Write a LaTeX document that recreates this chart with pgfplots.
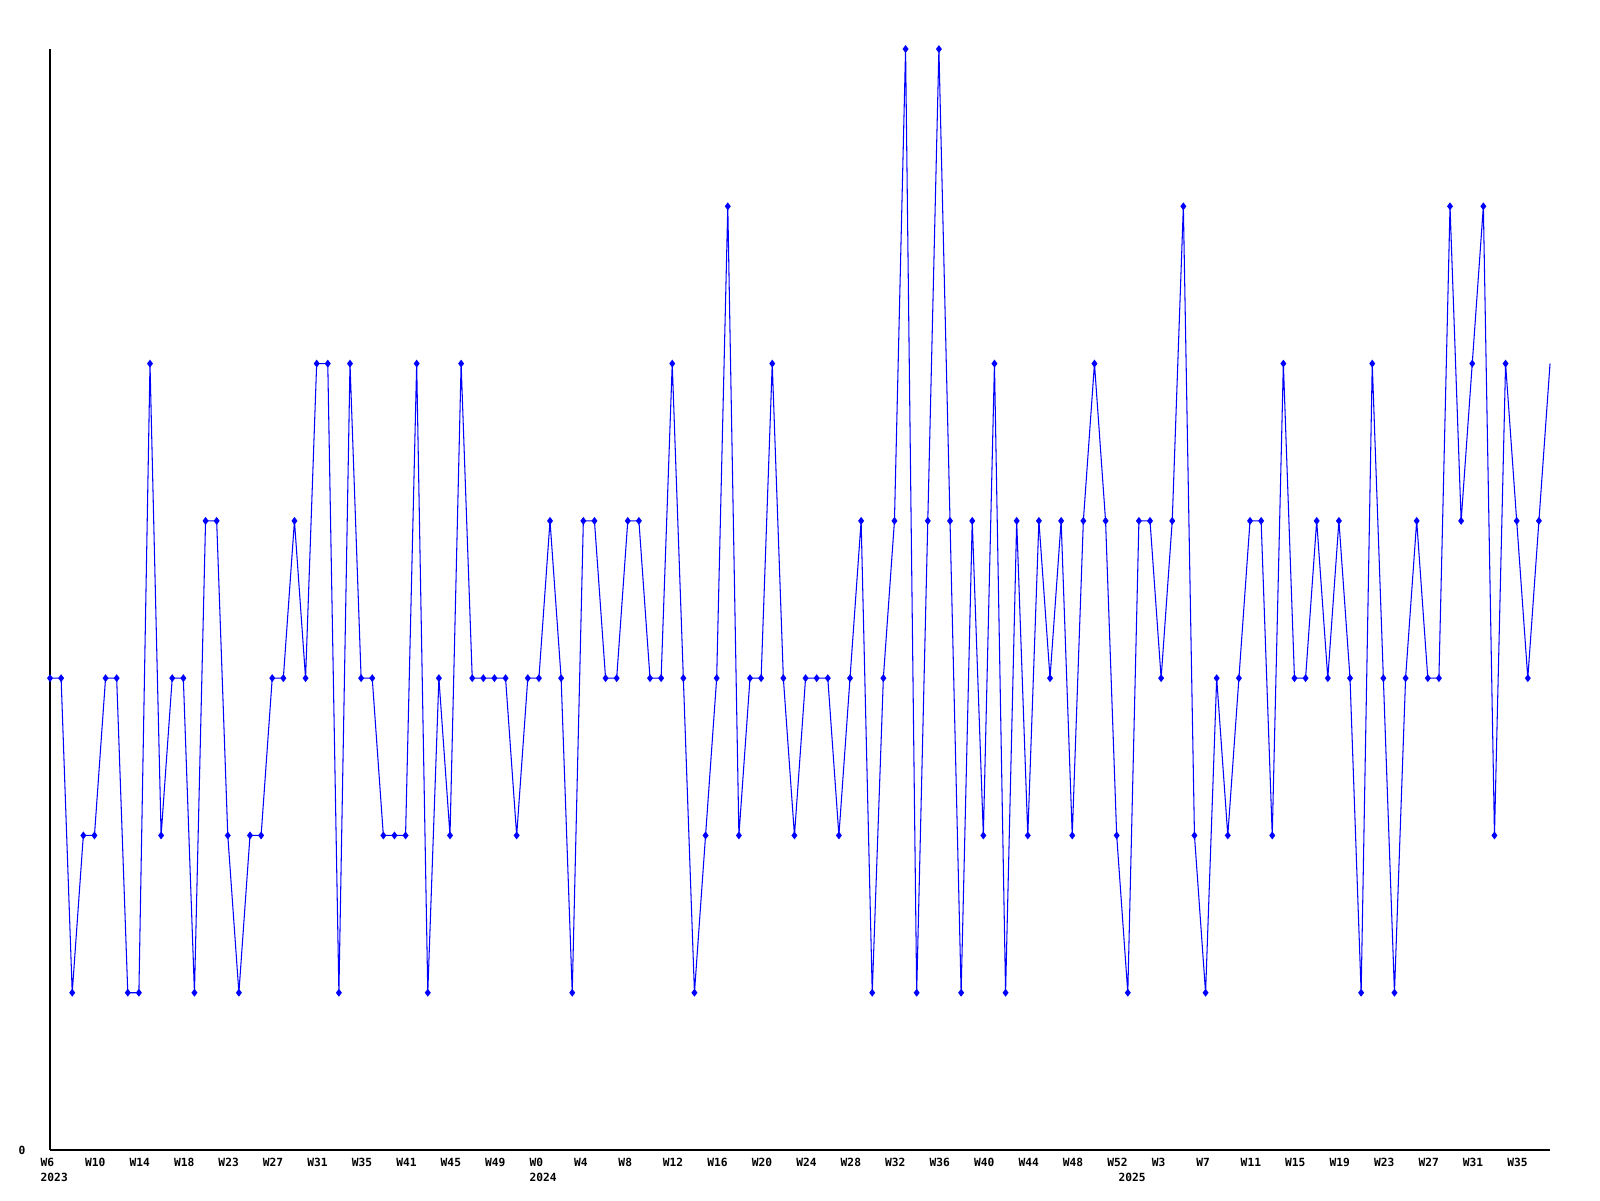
\documentclass[border=0pt]{standalone}
\usepackage{fontspec}
\setmainfont{DejaVu Sans Mono}
\usepackage{pgfplots}
\usepackage{pgfplotstable}
\pgfplotsset{compat=1.18}
\pgfplotstableread{
x y
0 3
1 3
2 1
3 2
4 2
5 3
6 3
7 1
8 1
9 5
10 2
11 3
12 3
13 1
14 4
15 4
16 2
17 1
18 2
19 2
20 3
21 3
22 4
23 3
24 5
25 5
26 1
27 5
28 3
29 3
30 2
31 2
32 2
33 5
34 1
35 3
36 2
37 5
38 3
39 3
40 3
41 3
42 2
43 3
44 3
45 4
46 3
47 1
48 4
49 4
50 3
51 3
52 4
53 4
54 3
55 3
56 5
57 3
58 1
59 2
60 3
61 6
62 2
63 3
64 3
65 5
66 3
67 2
68 3
69 3
70 3
71 2
72 3
73 4
74 1
75 3
76 4
77 7
78 1
79 4
80 7
81 4
82 1
83 4
84 2
85 5
86 1
87 4
88 2
89 4
90 3
91 4
92 2
93 4
94 5
95 4
96 2
97 1
98 4
99 4
100 3
101 4
102 6
103 2
104 1
105 3
106 2
107 3
108 4
109 4
110 2
111 5
112 3
113 3
114 4
115 3
116 4
117 3
118 1
119 5
120 3
121 1
122 3
123 4
124 3
125 3
126 6
127 4
128 5
129 6
130 2
131 5
132 4
133 3
134 4
135 5
}\data
\begin{document}
\begin{tikzpicture}
\path[use as bounding box] (0,0) rectangle (16cm,12cm);
\begin{axis}[
  at={(0.5cm,0.5cm)}, anchor=south west,
  scale only axis, width=15cm, height=11.01cm,
  xmin=0, xmax=135, ymin=0, ymax=7,
  axis x line*=bottom, axis y line*=left,
  axis line style={-, black, line width=0.35pt},
  major tick length=0pt,
  clip=false,
  xtick={0,4,...,132},
  xticklabels={W6,W10,W14,W18,W23,W27,W31,W35,W41,W45,W49,W0,W4,W8,W12,W16,W20,W24,W28,W32,W36,W40,W44,W48,W52,W3,W7,W11,W15,W19,W23,W27,W31,W35},
  xticklabel style={anchor=west, inner sep=0pt, xshift=-1mm, yshift=-1.2mm},
  extra x ticks={0,44,97},
  extra x tick labels={2023,2024,2025},
  extra x tick style={xticklabel style={yshift=-1.5mm}},
  ytick={0}, yticklabels={0},
  yticklabel style={anchor=east, inner sep=0pt, xshift=-2.4mm},
  tick label style={font=\fontsize{3.2}{3.6}\selectfont\bfseries},
]
\addplot[color=blue, line width=0.3pt, mark=none] table[x=x,y=y] {\data};
\addplot[color=blue, only marks, mark=diamond*, mark size=0.28mm, skip coords between index={135}{136}] table[x=x,y=y] {\data};
\end{axis}
\end{tikzpicture}
\end{document}
